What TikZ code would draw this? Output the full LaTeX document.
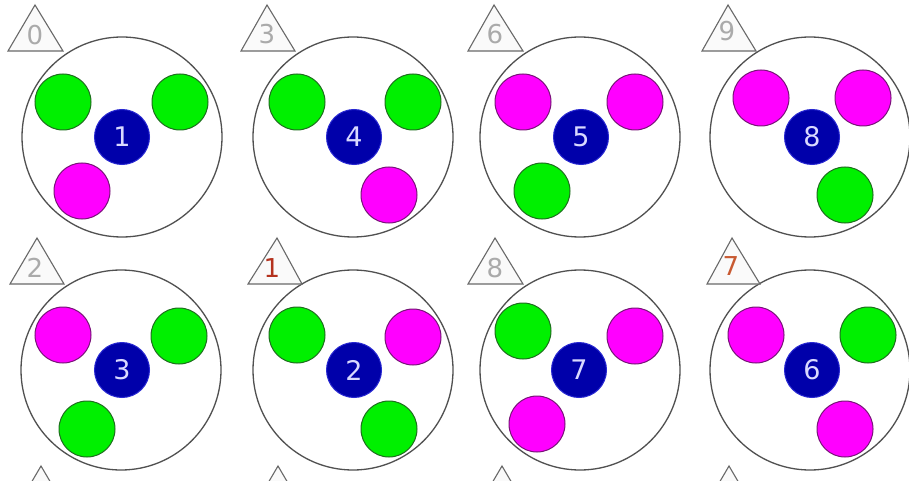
\documentclass[tikz,border=0pt]{standalone}
\usepackage{fontspec}
\setmainfont{DejaVu Sans}
\definecolor{ringc}{RGB}{80,80,80}
\definecolor{grnf}{RGB}{0,240,0}
\definecolor{grnd}{RGB}{30,110,30}
\definecolor{magf}{RGB}{255,0,255}
\definecolor{magd}{RGB}{120,20,120}
\definecolor{bluf}{RGB}{0,0,170}
\definecolor{blud}{RGB}{40,40,210}
\definecolor{tric}{RGB}{105,105,105}
\definecolor{tlabc}{RGB}{170,170,170}
\definecolor{redc}{RGB}{180,50,30}
\definecolor{orc}{RGB}{200,90,50}
\begin{document}
\begin{tikzpicture}[x=1pt,y=-1pt,
  bigc/.style={circle,draw=ringc,line width=1.3pt,fill=white,minimum size=200pt,inner sep=0pt},
  grn/.style={circle,fill=grnf,draw=grnd,line width=1pt,minimum size=56pt,inner sep=0pt},
  mag/.style={circle,fill=magf,draw=magd,line width=1pt,minimum size=56pt,inner sep=0pt},
  blu/.style={circle,fill=bluf,draw=blud,line width=1pt,minimum size=55pt,inner sep=0pt,
     text=white!85!blue,font=\fontsize{27}{30}\selectfont},
  trishape/.style={draw=tric,line width=1.1pt,fill=white!98!black,line join=miter},
  tlab/.style={inner sep=0pt,text=tlabc,font=\fontsize{26}{30}\selectfont},
]
\useasboundingbox (0,0) rectangle (909,481);
\fill[white] (0,0) rectangle (909,481);
\clip (0,0) rectangle (909,481);

% ---------- top row ----------
\node[bigc] (cA) at (122,137) {};
\node[bigc] (cB) at (353,137) {};
\node[bigc] (cC) at (580,137) {};
\node[bigc] (cD) at (810,137) {};
% ---------- bottom row ----------
\node[bigc] (cE) at (121,370) {};
\node[bigc] (cF) at (353,370) {};
\node[bigc] (cG) at (580,370) {};
\node[bigc] (cH) at (810,370) {};

% panel A
\node[grn] (a1) at (63,102) {};
\node[grn] (a2) at (180,102) {};
\node[mag] (a3) at (82,191) {};
\node[blu] (aC) at (122,137) {1};
% panel B
\node[grn] (b1) at (297,102) {};
\node[grn] (b2) at (413,102) {};
\node[mag] (b3) at (389,195) {};
\node[blu] (bC) at (354,137) {4};
% panel C
\node[mag] (c1) at (523,102) {};
\node[mag] (c2) at (635,102) {};
\node[grn] (c3) at (542,191) {};
\node[blu] (cCc) at (581,137) {5};
% panel D
\node[mag] (d1) at (761,98) {};
\node[mag] (d2) at (863,98) {};
\node[grn] (d3) at (845,195) {};
\node[blu] (dC) at (812,137) {8};
% panel E
\node[mag] (e1) at (63,335) {};
\node[grn] (e2) at (179,336) {};
\node[grn] (e3) at (87,429) {};
\node[blu] (eC) at (122,370) {3};
% panel F
\node[grn] (f1) at (297,335) {};
\node[mag] (f2) at (413,337) {};
\node[grn] (f3) at (389,429) {};
\node[blu] (fC) at (354,370) {2};
% panel G
\node[grn] (g1) at (523,331) {};
\node[mag] (g2) at (635,336) {};
\node[mag] (g3) at (537,424) {};
\node[blu] (gC) at (579,370) {7};
% panel H
\node[mag] (h1) at (756,335) {};
\node[grn] (h2) at (868,335) {};
\node[mag] (h3) at (845,429) {};
\node[blu] (hC) at (812,370) {6};

% ---------- triangles ----------
\draw[trishape] (8,51) -- (35,5) -- (63,51) -- cycle;
\node[tlab] (tA) at (35,35) {0};
\draw[trishape] (241,51) -- (267,5) -- (295,51) -- cycle;
\node[tlab] (tB) at (267,34) {3};
\draw[trishape] (468,51) -- (494,5) -- (523,51) -- cycle;
\node[tlab] (tC) at (495,34) {6};
\draw[trishape] (702,51) -- (728,5) -- (756,51) -- cycle;
\node[tlab] (tD) at (727,31) {9};

\draw[trishape] (10,284) -- (37,238) -- (64,284) -- cycle;
\node[tlab] (tE) at (35,268) {2};
\draw[trishape] (248,284) -- (277,238) -- (302,284) -- cycle;
\node[tlab,text=redc] (tF) at (272,268) {1};
\draw[trishape] (468,284) -- (495,238) -- (523,284) -- cycle;
\node[tlab] (tG) at (495,268) {8};
\draw[trishape] (707,284) -- (732,238) -- (760,284) -- cycle;
\node[tlab,text=orc] (tH) at (731,266) {7};

% partial triangles of a further row
\draw[trishape] (14,512) -- (41,466) -- (68,512) -- cycle;
\draw[trishape] (251,512) -- (278,466) -- (305,512) -- cycle;
\draw[trishape] (475,512) -- (502,466) -- (529,512) -- cycle;
\draw[trishape] (702,512) -- (729,466) -- (756,512) -- cycle;
\end{tikzpicture}
\end{document}
